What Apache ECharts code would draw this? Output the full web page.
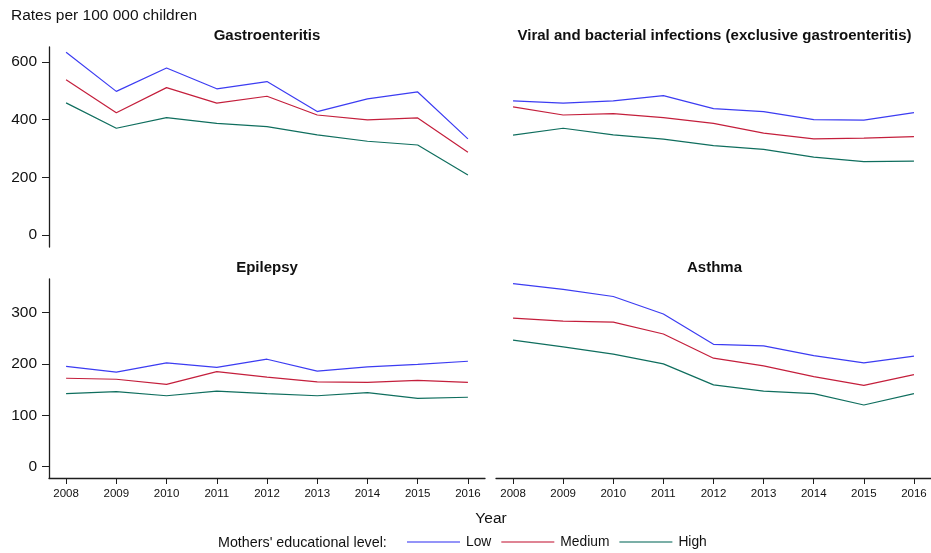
<!DOCTYPE html>
<html>
<head>
<meta charset="utf-8">
<script src="https://cdn.jsdelivr.net/npm/echarts@6/dist/echarts.min.js"></script>
<style>
  html, body { margin: 0; padding: 0; background: #fff; }
  #chart { width: 931px; height: 553px; }
</style>
</head>
<body>
<div id="chart"></div>
<script>
// Hospitalisation rates per 100 000 children, by mothers' educational level
const years = [2008, 2009, 2010, 2011, 2012, 2013, 2014, 2015, 2016];
const levels = ['Low', 'Medium', 'High'];
const panelTitles = [
  'Gastroenteritis',
  'Viral and bacterial infections (exclusive gastroenteritis)',
  'Epilepsy',
  'Asthma'
];

const gastroLow  = [634, 498, 579, 507, 532, 428, 472, 496, 333];
const gastroMed  = [538, 424, 511, 457, 481, 416, 399, 406, 287];
const gastroHigh = [458, 370, 407, 387, 376, 347, 325, 312, 208];

const viralLow  = [465, 457, 465, 483, 438, 428, 400, 398, 424];
const viralMed  = [444, 416, 421, 407, 387, 353, 333, 336, 341];
const viralHigh = [346, 370, 347, 332, 310, 297, 270, 254, 256];

const epiLow  = [195, 184, 202, 193, 209, 186, 194, 199, 205];
const epiMed  = [172, 170, 160, 185, 174, 165, 164, 168, 164];
const epiHigh = [142, 146, 138, 147, 142, 138, 144, 133, 135];

const asthmaLow  = [356, 345, 331, 297, 238, 235, 216, 202, 215];
const asthmaMed  = [289, 283, 281, 258, 211, 196, 175, 158, 179];
const asthmaHigh = [246, 233, 219, 200, 159, 147, 142, 120, 142];

const topTicks = [0, 200, 400, 600];
const bottomTicks = [0, 100, 200, 300];

const panelData = [
  [gastroLow, gastroMed, gastroHigh],
  [viralLow, viralMed, viralHigh],
  [epiLow, epiMed, epiHigh],
  [asthmaLow, asthmaMed, asthmaHigh]
];

const colors = ['#3c3cf2', '#c41f3c', '#0f6e5e'];
const FONT = '"Liberation Sans", Arial, Helvetica, sans-serif';
const AXIS_COLOR = '#1e1e1e';

const grids = [
  { left: 49,  top: 47,  width: 436, height: 200 },
  { left: 496, top: 47,  width: 437, height: 200 },
  { left: 49,  top: 279, width: 436, height: 199 },
  { left: 496, top: 279, width: 437, height: 199 }
];

const xAxes = grids.map((g, i) => {
  const bottomRow = i >= 2;
  return {
    type: 'value',
    gridIndex: i,
    min: 2007.66,
    max: 2016.34,
    show: bottomRow,
    splitLine: { show: false },
    axisLine: { show: true, onZero: false, lineStyle: { color: AXIS_COLOR, width: 1.3 } },
    axisTick: { show: true, length: 6, customValues: years, lineStyle: { color: AXIS_COLOR, width: 1 } },
    axisLabel: {
      customValues: years,
      margin: 10,
      fontSize: 11.5,
      fontFamily: FONT,
      color: '#111',
      formatter: v => String(v)
    }
  };
});

const yAxes = grids.map((g, i) => {
  const top = i < 2;
  const ticks = top ? topTicks : bottomTicks;
  return {
    type: 'value',
    gridIndex: i,
    min: top ? -42 : -22,
    max: top ? 652 : 365,
    show: i % 2 === 0,
    splitLine: { show: false },
    axisLine: { show: true, onZero: false, lineStyle: { color: AXIS_COLOR, width: 1.3 } },
    axisTick: { show: true, length: 7, customValues: ticks, lineStyle: { color: AXIS_COLOR, width: 1 } },
    axisLabel: {
      customValues: ticks,
      margin: 12,
      fontSize: 15.5,
      fontFamily: FONT,
      color: '#111'
    }
  };
});

const series = [];
panelData.forEach((sets, p) => {
  sets.forEach((vals, k) => {
    series.push({
      type: 'line',
      name: levels[k],
      xAxisIndex: p,
      yAxisIndex: p,
      data: years.map((y, j) => [y, vals[j]]),
      symbol: 'none',
      showSymbol: false,
      silent: true,
      animation: false,
      lineStyle: { color: colors[k], width: 1.2 },
      itemStyle: { color: colors[k] }
    });
  });
});

const titleCenters = [
  [(grids[0].left + grids[0].left + grids[0].width) / 2, 36],
  [(grids[1].left + grids[1].left + grids[1].width) / 2, 36],
  [(grids[2].left + grids[2].left + grids[2].width) / 2, 268],
  [(grids[3].left + grids[3].left + grids[3].width) / 2, 268]
];

const graphics = panelTitles.map((t, i) => ({
  type: 'text',
  x: titleCenters[i][0],
  y: titleCenters[i][1],
  style: {
    text: t,
    font: 'bold 15px ' + FONT,
    fill: '#111',
    align: 'center',
    verticalAlign: 'middle'
  }
}));

graphics.push(
  {
    type: 'text', x: 11, y: 16,
    style: { text: 'Rates per 100 000 children', font: '15.5px ' + FONT, fill: '#111', align: 'left', verticalAlign: 'middle' }
  },
  {
    type: 'text', x: 491, y: 519,
    style: { text: 'Year', font: '15.5px ' + FONT, fill: '#111', align: 'center', verticalAlign: 'middle' }
  },
  {
    type: 'text', x: 218, y: 543,
    style: { text: "Mothers' educational level:", font: '14.3px ' + FONT, fill: '#111', align: 'left', verticalAlign: 'middle' }
  }
);

const chart = echarts.init(document.getElementById('chart'), null, { renderer: 'canvas' });
chart.setOption({
  animation: false,
  backgroundColor: '#ffffff',
  grid: grids,
  xAxis: xAxes,
  yAxis: yAxes,
  series: series,
  legend: {
    data: levels,
    left: 407,
    top: 535,
    padding: 0,
    icon: 'rect',
    itemWidth: 53,
    itemHeight: 2,
    itemGap: 10,
    selectedMode: false,
    itemStyle: { opacity: 0.55 },
    textStyle: { fontSize: 13.8, fontFamily: FONT, color: '#111', padding: [0, 0, 0, 1] }
  },
  graphic: graphics
});
</script>
</body>
</html>
